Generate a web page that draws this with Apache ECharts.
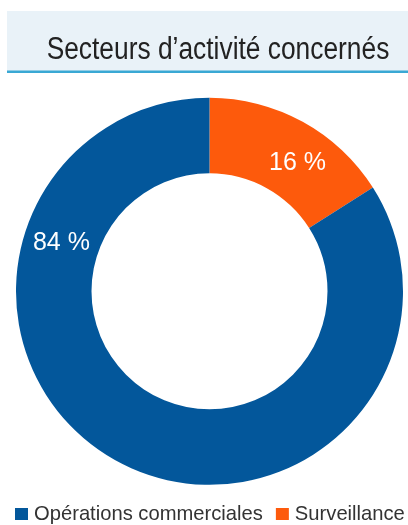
<!DOCTYPE html>
<html>
<head>
<meta charset="utf-8">
<script src="https://cdn.jsdelivr.net/npm/echarts@6/dist/echarts.min.js"></script>
<style>
  html, body { margin: 0; padding: 0; background: #ffffff; }
  #chart { width: 408px; height: 525px; }
</style>
</head>
<body>
<div id="chart"></div>
<script>
// Share of activity sectors concerned (percent)
const titleText = 'Secteurs d’activité concernés';
const categories = ['Surveillance', 'Opérations commerciales'];
const values = [16, 84];
const legendOrder = ['Opérations commerciales', 'Surveillance'];
const colors = ['#fd5a0c', '#03579b'];

// Ring geometry
const cx = 209.5, cy = 291.3;
const rInner = 118, rOuter = 193.5;
// Where each percentage label sits along the ring (degrees clockwise from 12 o'clock)
const labelAngles = [34.4, 288];

const chart = echarts.init(document.getElementById('chart'), null, { renderer: 'canvas' });

chart.setOption({
  animation: false,
  backgroundColor: '#ffffff',
  color: colors,
  graphic: [
    {
      type: 'rect',
      shape: { x: 7, y: 11, width: 401, height: 60 },
      style: { fill: '#e9f2f8' },
      silent: true
    },
    {
      type: 'rect',
      shape: { x: 7, y: 70.5, width: 401, height: 2.5 },
      style: { fill: '#3aa8d4' },
      silent: true
    },
    {
      type: 'text',
      x: 218, y: 50,
      scaleX: 0.85,
      style: {
        text: titleText,
        x: 0, y: 0,
        fill: '#222222',
        font: '31px "Liberation Sans", Arial, sans-serif',
        align: 'center',
        verticalAlign: 'middle'
      },
      silent: true
    }
  ],
  legend: {
    data: legendOrder,
    orient: 'horizontal',
    left: 15,
    top: 504,
    width: 393,
    padding: 0,
    itemWidth: 13,
    itemHeight: 12,
    itemGap: 13,
    icon: 'rect',
    selectedMode: false,
    textStyle: {
      color: '#333333',
      fontSize: 20.2,
      fontFamily: '"Liberation Sans", Arial, sans-serif',
      padding: [0, 0, 0, 1]
    }
  },
  series: [{
    type: 'pie',
    center: [cx, cy],
    radius: [rInner, rOuter],
    startAngle: 90,
    clockwise: true,
    silent: true,
    avoidLabelOverlap: false,
    data: categories.map((name, i) => ({ name: name, value: values[i] })),
    label: {
      show: true,
      position: 'inside',
      formatter: p => p.value + ' %',
      color: '#ffffff',
      fontSize: 25,
      fontFamily: '"Liberation Sans", Arial, sans-serif'
    },
    labelLine: { show: false },
    labelLayout: function (params) {
      const a = labelAngles[params.dataIndex] * Math.PI / 180;
      const rm = (rInner + rOuter) / 2;
      return {
        x: cx + rm * Math.sin(a),
        y: cy - rm * Math.cos(a),
        align: 'center',
        verticalAlign: 'middle'
      };
    }
  }]
});
</script>
</body>
</html>
